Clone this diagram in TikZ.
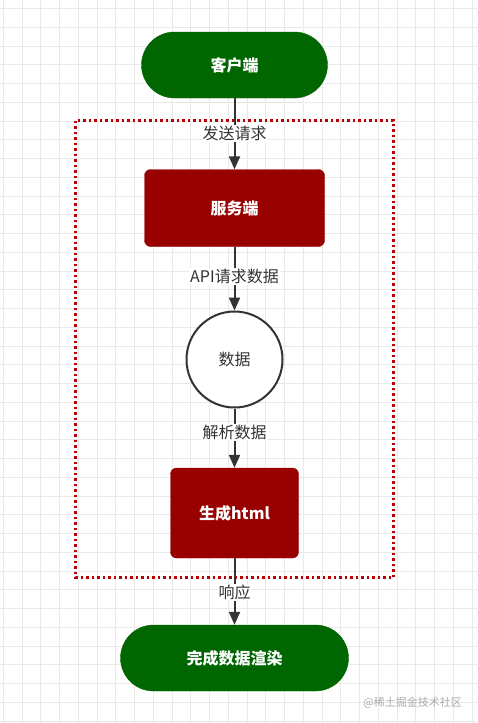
\documentclass[tikz,border=0pt]{standalone}
\usepackage{fontspec}
\setmainfont{Noto Sans CJK SC}
\usetikzlibrary{arrows.meta}
\definecolor{cgreen}{HTML}{006600}
\definecolor{cred}{HTML}{990000}
\definecolor{cdot}{HTML}{B80000}
\definecolor{cline}{HTML}{333333}
\definecolor{cgrid}{HTML}{E9E9E9}
\definecolor{cwm}{HTML}{ABABAB}
\begin{document}
\begin{tikzpicture}[x=1pt,y=-1pt,
  pill/.style={draw=cgreen, fill=cgreen, rounded corners=33pt, minimum height=66pt,
    text=white, font=\fontsize{16}{19}\selectfont\bfseries, inner sep=0pt},
  redbox/.style={draw=cred, fill=cred, rounded corners=6pt,
    text=white, font=\fontsize{16}{19}\selectfont\bfseries, inner sep=0pt},
  datacircle/.style={circle, draw=cline, line width=2pt, fill=white, minimum size=96pt,
    text=cline, font=\fontsize{16}{19}\selectfont, inner sep=0pt},
  arr/.style={draw=cline, line width=2pt, -{Triangle[length=13pt,width=11pt]}},
  lab/.style={fill=white, text=cline, font=\fontsize{16}{19}\selectfont, inner sep=1pt},
  group/.style={draw=cdot, line width=2.5pt, dash pattern=on 2.5pt off 3pt}
]
\useasboundingbox (0,0) rectangle (477,723);
\fill[white] (0,0) rectangle (477,723);
% grid
\foreach \k in {0,...,25} {\draw[cgrid, line width=1pt] ({3.3+18.75*\k},0) -- ({3.3+18.75*\k},723);}
\foreach \k in {0,...,38} {\draw[cgrid, line width=1pt] (0,{8.7+18.75*\k}) -- (477,{8.7+18.75*\k});}
% group frame
\draw[group] (75.5,120.5) rectangle (393.5,577.5);
% nodes
\node[pill, minimum width=186pt] (client) at (234.5,65) {客户端};
\node[redbox, minimum width=180pt, minimum height=77pt] (server) at (234.5,208) {服务端};
\node[datacircle] (data) at (234.5,359.5) {数据};
\node[redbox, minimum width=128pt, minimum height=90pt] (html) at (234.5,513) {生成html};
\node[pill, minimum width=228pt] (done) at (234.5,658) {完成数据渲染};
% connectors
\draw[arr] (client) -- (server) node[lab, pos=0.5] {发送请求};
\draw[arr] (server) -- (data) node[lab, pos=0.47] {API请求数据};
\draw[arr] (data) -- (html) node[lab, pos=0.4] {解析数据};
\draw[arr] (html) -- (done) node[lab, pos=0.52] {响应};
% watermark
\node[text=cwm, font=\fontsize{11}{13}\selectfont, anchor=east, inner sep=0pt] (wm) at (462,703) {@稀土掘金技术社区};
\end{tikzpicture}
\end{document}
